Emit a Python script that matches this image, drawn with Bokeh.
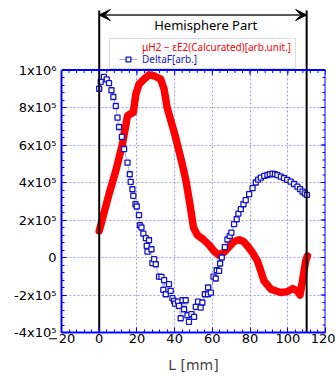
from bokeh.plotting import figure
from bokeh.models import (Range1d, FixedTicker, Span, Legend, LegendItem,
                          Arrow, VeeHead, Label, BoxAnnotation)
from bokeh.embed import file_html
from bokeh.resources import INLINE

# ---------------- data ----------------
red_L = [0, 5.2, 8.8, 12.3, 15.0, 16.7, 18.1, 19.4, 21.1, 23.8, 26.4, 29.1, 30.9, 32.6, 34.4,
         36.0, 40.0, 44.0, 46.0, 48.0, 50.0, 52.0, 55.0, 58.0, 61.0, 63.6, 66.2, 68.9, 71.5,
         74.2, 76.5, 78.6, 81.0, 83.9, 87.4, 91.0, 96.3, 99.8, 102.5, 105.1, 106.5, 107.8,
         109.5, 110.4]
red_v = [142000, 338000, 462000, 604000, 755000, 767000, 773000, 870000, 924000, 951000,
         974000, 969000, 960000, 951000, 898000, 800000, 660000, 500000, 410000, 290000,
         160000, 120000, 98000, 70000, 33000, 12000, 28000, 58000, 85000, 95000, 85000,
         62000, 30000, -18000, -125000, -169000, -187000, -182000, -166000, -178000,
         -200000, -125000, -18000, 8000]

blue_L = [0, 0.8, 2.5, 4.0, 5.2, 6.5, 7.5, 8.8, 9.7, 10.5, 12.0, 13.2, 15.0, 16.2, 16.7,
          17.6, 18.1, 19.2, 19.9, 21.1, 21.6, 22.4, 23.4, 24.7, 25.2, 25.6, 26.4, 27.7,
          28.2, 29.1, 30.0, 31.7, 33.0, 34.0, 34.4, 35.3, 37.0, 37.9, 38.8, 39.7, 40.2,
          41.8, 42.3, 43.2, 44.1, 45.0, 45.9, 46.8, 47.6, 48.9, 50.3, 51.2, 52.4, 53.8,
          54.7, 56.0, 57.7, 57.7, 59.2, 60.6, 61.8, 62.3, 63.6, 64.1, 65.0, 66.6, 68.0,
          69.2, 70.1, 71.5, 72.9, 73.8, 75.1, 76.5, 77.7, 79.5, 81.3, 83.0, 84.3, 85.7,
          87.5, 89.2, 90.5, 91.9, 93.2, 94.5, 96.3, 98.0, 99.7, 101.5, 103.3, 105.1,
          106.5, 107.8, 109.0, 110.1]
blue_v = [900000, 937000, 963000, 950000, 930000, 892000, 856000, 808000, 746000, 696000,
          643000, 578000, 506000, 444000, 403000, 364000, 329000, 284000, 272000, 226000,
          172000, 160000, 127000, 103000, 62000, 31000, 92000, 44000, -30000, -9000,
          -36000, -102000, -103000, -173000, -121000, -196000, -142000, -178000, -217000,
          -231000, -246000, -235000, -258000, -324000, -228000, -276000, -228000, -308000,
          -343000, -302000, -317000, -263000, -235000, -267000, -240000, -196000, -196000,
          -160000, -187000, -102000, -112000, -68000, -71000, -32000, 0, 55000, 96000,
          115000, 133000, 178000, 204000, 234000, 258000, 284000, 306000, 338000, 370000,
          400000, 415000, 426000, 435000, 440000, 444000, 447000, 444000, 439000, 431000,
          423000, 414000, 405000, 392000, 378000, 365000, 351000, 342000, 334000]

x_ticks = [-20, 0, 20, 40, 60, 80, 100, 120]
x_minor = [-20 + 4 * i for i in range(36)]
y_ticks = [-400000, -200000, 0, 200000, 400000, 600000, 800000, 1000000]
y_minor = [-400000 + 40000 * i for i in range(36)]
y_tick_labels = ["-4x10\u2075", "-2x10\u2075", "0", "2x10\u2075", "4x10\u2075",
                 "6x10\u2075", "8x10\u2075", "1x10\u2076"]
hemisphere = [0, 110]
legend_labels = ["\u03bcH2 \u2212 \u03b5E2(Calcurated)[arb.unit.]", "DeltaF[arb.]"]
x_label = "L [mm]"
title_text = "Hemisphere Part"

# ---------------- style / geometry ----------------
BLUE_FRAME = "#0000ff"
GRID = "#9c9cec"
RED = "#ff0000"
BLUE = "#1414c8"
W, H = 335, 376
LEFT, RIGHT, TOP, BOTTOM = 61, 10, 0, 44
FW, FH = W - LEFT - RIGHT, H - TOP - BOTTOM
FRAME_BOTTOM = TOP + FH              # page row of the frame bottom
PX = 1400000 / 262.5                 # y data units per pixel
PXX = 140 / FW                       # x data units per pixel
Y_TOP = -400000 + FH * PX

def ypix(page_y):
    # data y for a page pixel row
    return -400000 + (FRAME_BOTTOM - page_y) * PX

p = figure(width=W, height=H, x_range=Range1d(-20, 120),
           y_range=Range1d(-400000, Y_TOP), output_backend="svg", toolbar_location=None,
           min_border_left=LEFT, min_border_right=RIGHT, min_border_top=TOP,
           min_border_bottom=BOTTOM, x_axis_label=x_label)
p.outline_line_color = None
p.background_fill_color = "white"

# axes
tick_font = "DejaVu Sans"
xa = p.xaxis[0]
xa.ticker = FixedTicker(ticks=x_ticks, minor_ticks=x_minor)
ya = p.yaxis[0]
ya.ticker = FixedTicker(ticks=y_ticks, minor_ticks=y_minor)
ya.bounds = (y_ticks[0], y_ticks[-1])
ya.major_label_overrides = {t: l for t, l in zip(y_ticks, y_tick_labels)}
for ax in (xa, ya):
    ax.axis_line_color = BLUE_FRAME
    ax.axis_line_width = 2
    ax.major_tick_in = 5
    ax.major_tick_out = 0
    ax.minor_tick_in = 3
    ax.minor_tick_out = 0
    ax.major_tick_line_color = BLUE_FRAME
    ax.minor_tick_line_color = BLUE_FRAME
    ax.major_label_text_font = tick_font
    ax.major_label_text_font_size = "13px"
    ax.major_label_text_color = "black"
xa.major_label_standoff = 1
ya.major_label_standoff = 5
xa.axis_label_text_font = tick_font
xa.axis_label_text_font_size = "14px"
xa.axis_label_text_font_style = "normal"
xa.axis_label_standoff = 11

# grid
p.xgrid.ticker = FixedTicker(ticks=x_ticks)
p.ygrid.ticker = FixedTicker(ticks=y_ticks)
grid_drawn = False
try:
    p.xgrid.cross_bounds = (y_ticks[0], y_ticks[-1])
    grid_drawn = True
except Exception:
    p.xgrid.visible = False
for g in (p.xgrid, p.ygrid):
    g.grid_line_color = GRID
    g.grid_line_dash = "2 2"
    g.grid_line_width = 1
if not grid_drawn:
    p.segment(x0=x_ticks[1:-1], y0=[y_ticks[0]] * 6, x1=x_ticks[1:-1], y1=[y_ticks[-1]] * 6,
              line_color=GRID, line_dash="2 2", line_width=1)

# top and right edges of the box with inward ticks
p.add_layout(Span(location=y_ticks[-1], dimension="width", line_color=BLUE_FRAME, line_width=2))
p.segment(x0=[x_ticks[-1]], y0=[y_ticks[0]], x1=[x_ticks[-1]], y1=[y_ticks[-1]],
          line_color=BLUE_FRAME, line_width=2)
for ticks, ln in ((x_minor, 3), (x_ticks, 5)):
    p.segment(x0=ticks, y0=[y_ticks[-1]] * len(ticks), x1=ticks,
              y1=[y_ticks[-1] - ln * PX] * len(ticks), line_color=BLUE_FRAME, line_width=1)
for ticks, ln in ((y_minor, 3), (y_ticks, 5)):
    p.segment(x0=[x_ticks[-1]] * len(ticks), y0=ticks, x1=[x_ticks[-1] - ln * PXX] * len(ticks),
              y1=ticks, line_color=BLUE_FRAME, line_width=1)

# data
red_r = p.line(red_L, red_v, line_color=RED, line_width=7.5, line_join="round", line_cap="round")
blue_line = p.line(blue_L, blue_v, line_color=BLUE, line_width=0.6, line_alpha=0.6)
blue_pts = p.scatter(blue_L, blue_v, marker="square", size=5, fill_color="white",
                     line_color=BLUE, line_width=1.3)
red_icon = p.scatter([], [], marker="square", size=6, fill_color=RED, line_color=RED)

# hemisphere markers
p.segment(x0=hemisphere, y0=[y_ticks[0]] * 2, x1=hemisphere,
          y1=[ypix(10)] * 2, line_color="black", line_width=2)
arrow_y = ypix(14.5)
p.add_layout(Arrow(x_start=hemisphere[0], y_start=arrow_y, x_end=hemisphere[1], y_end=arrow_y,
                   line_color="#222222", line_width=1.5,
                   start=VeeHead(size=11, fill_color="black", line_color="black"),
                   end=VeeHead(size=11, fill_color="black", line_color="black")))
p.add_layout(Label(x=56.5, y=ypix(24), text=title_text,
                   text_align="center", text_baseline="middle",
                   text_font="Noto Sans", text_font_size="13px", text_color="black"))

# legend box
p.add_layout(BoxAnnotation(left=5.45, right=104.1, bottom=ypix(68), top=ypix(38),
                           fill_color="white", fill_alpha=1, line_color="#888888",
                           line_width=1, level="annotation"))

def make_legend(label, renderers, color, page_y_center):
    legend = Legend(items=[LegendItem(label=label, renderers=renderers)],
                    padding=0, margin=0, spacing=0, glyph_width=18, glyph_height=12,
                    label_height=12, label_standoff=5, border_line_color=None,
                    background_fill_alpha=0, label_text_color=color,
                    label_text_font="Noto Sans", label_text_font_size="10px")
    legend.location = (119 - LEFT, round(FRAME_BOTTOM - page_y_center - 6))
    return legend

p.add_layout(make_legend(legend_labels[0], [red_icon], RED, 48.5))
p.add_layout(make_legend(legend_labels[1], [blue_line, blue_pts], BLUE, 60.5))

open("out.html", "w").write(file_html(p, INLINE))
